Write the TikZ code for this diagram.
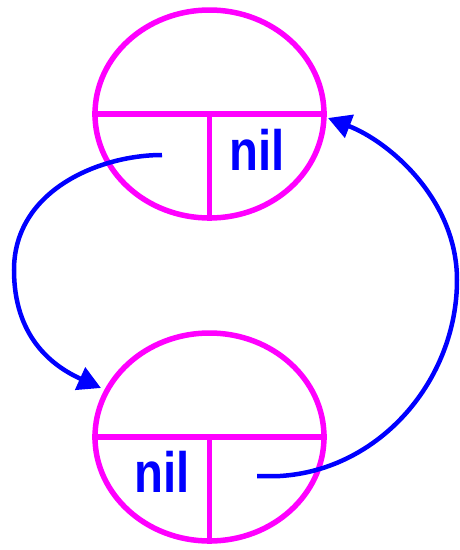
\documentclass[tikz,border=0pt]{standalone}
\usepackage{fontspec}
\setmainfont{Liberation Sans}
\usetikzlibrary{shapes.geometric,arrows.meta}
\definecolor{mag}{RGB}{255,0,255}
\definecolor{blu}{RGB}{0,0,255}
\tikzset{
  cell/.style={ellipse,draw=mag,line width=5.5pt,minimum width=229pt,minimum height=208pt,inner sep=0pt},
  part/.style={draw=mag,line width=5.5pt},
  niltext/.style={text=blu,font=\fontsize{57}{60}\selectfont\bfseries,inner sep=0pt},
  link/.style={draw=blu,line width=4.5pt,-{Triangle[length=23pt,width=24pt]}}
}
\begin{document}
\begin{tikzpicture}[x=1pt,y=-1pt]
\useasboundingbox (0,0) rectangle (459,550);
\node[cell] (top) at (209.5,114) {};
\node[cell] (bot) at (209.5,437) {};
\draw[part] (top.west) -- (top.east);
\draw[part] (top.center) -- (top.south);
\draw[part] (bot.west) -- (bot.east);
\draw[part] (bot.center) -- (bot.south);
\node[niltext,anchor=base] (topnil) at (257,170) {\scalebox{0.83}[1]{nil}};
\node[niltext,anchor=base] (botnil) at (162,492) {\scalebox{0.83}[1]{nil}};
\coordinate (s1) at (162,155);
\coordinate (e1) at (101,388);
\coordinate (s2) at (257,476);
\coordinate (e2) at (328,118);
\path[link] (s1) .. controls (100,155) and (14,190) .. (14,270) .. controls (14,335) and (50,365) .. (e1);
\path[link] (s2) -- (280,476) .. controls (380,470) and (457,380) .. (457,280) .. controls (457,200) and (390,142) .. (e2);
\end{tikzpicture}
\end{document}
